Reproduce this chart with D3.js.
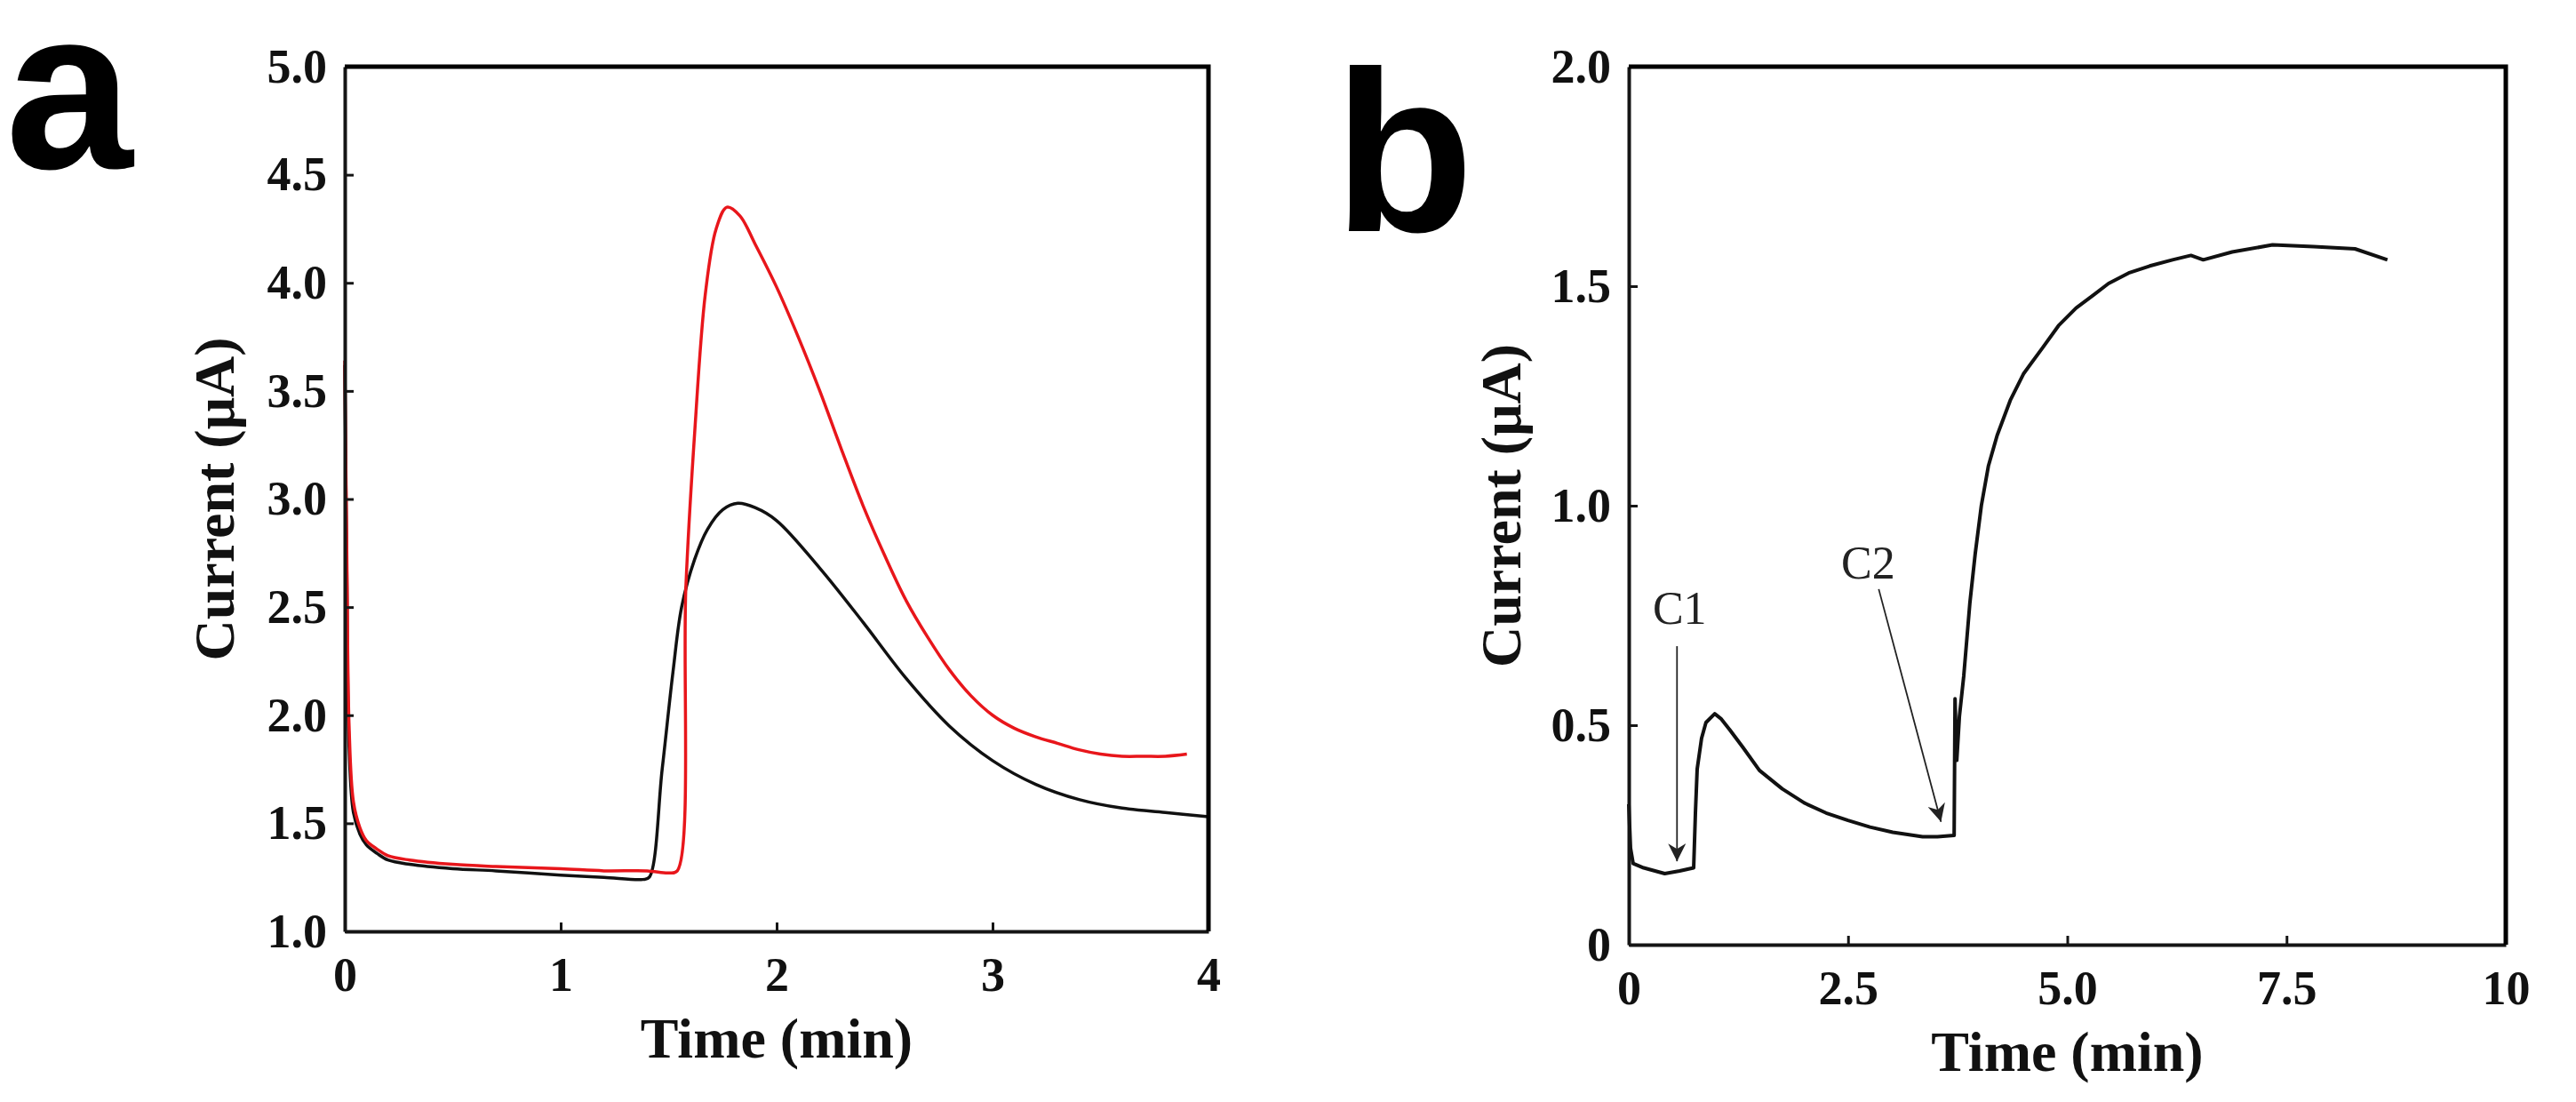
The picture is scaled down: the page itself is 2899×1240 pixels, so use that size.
<!DOCTYPE html>
<html>
<head>
<meta charset="utf-8">
<script src="https://cdn.jsdelivr.net/npm/d3@7"></script>
<style>
  body { margin: 0; background: #fff; }
  .tick text { font-family: "Liberation Serif", "Times New Roman", serif; font-weight: bold; font-size: 54px; fill: #111; }
  .domain { stroke: #151515; stroke-width: 4; }
  .tick line { stroke: #151515; stroke-width: 3; }
  .title { font-family: "Liberation Serif", "Times New Roman", serif; font-weight: bold; font-size: 64px; fill: #111; }
  .letter { font-family: "Liberation Sans", Arial, sans-serif; font-weight: bold; font-size: 258px; fill: #000; }
  .note { font-family: "Liberation Serif", "Times New Roman", serif; font-size: 52px; fill: #222; }
</style>
</head>
<body>
<svg id="svg" width="2899" height="1240"></svg>
<script>
// panel a: amperometric response, two runs
const timeA_black = [0, 0.01, 0.02, 0.04, 0.07, 0.1, 0.15, 0.2, 0.3, 0.5, 0.7, 1.0, 1.2, 1.38, 1.41, 1.47, 1.52, 1.56, 1.62, 1.68, 1.75, 1.82, 1.9, 2.0, 2.2, 2.4, 2.6, 2.8, 3.0, 3.2, 3.4, 3.6, 3.8, 4.0];
const currentA_black = [3.62, 2.6, 1.85, 1.55, 1.45, 1.40, 1.36, 1.33, 1.31, 1.29, 1.28, 1.26, 1.25, 1.24, 1.25, 1.75, 2.2, 2.5, 2.72, 2.86, 2.95, 2.98, 2.96, 2.9, 2.68, 2.43, 2.17, 1.95, 1.79, 1.68, 1.61, 1.57, 1.55, 1.53];

const timeA_red = [0, 0.01, 0.02, 0.04, 0.07, 0.1, 0.15, 0.2, 0.3, 0.5, 0.7, 1.0, 1.2, 1.4, 1.5, 1.54, 1.58, 1.62, 1.67, 1.72, 1.77, 1.83, 1.9, 2.0, 2.1, 2.2, 2.3, 2.4, 2.5, 2.6, 2.7, 2.8, 2.9, 3.0, 3.1, 3.2, 3.3, 3.4, 3.5, 3.6, 3.7, 3.8, 3.9];
const currentA_red = [3.64, 2.7, 1.95, 1.6, 1.48, 1.42, 1.38, 1.35, 1.33, 1.31, 1.30, 1.29, 1.28, 1.28, 1.27, 1.28, 2.6, 3.3, 3.95, 4.25, 4.35, 4.31, 4.18, 3.98, 3.75, 3.5, 3.23, 2.97, 2.74, 2.53, 2.36, 2.21, 2.09, 2.0, 1.94, 1.9, 1.87, 1.84, 1.82, 1.81, 1.81, 1.81, 1.82];

// panel b: response to two additions C1 and C2
const timeB = [0, 0.02, 0.05, 0.17, 0.41, 0.58, 0.74, 0.76, 0.78, 0.83, 0.88, 0.98, 1.05, 1.15, 1.3, 1.49, 1.75, 2.0, 2.25, 2.5, 2.75, 3.01, 3.35, 3.52, 3.71, 3.72, 3.74, 3.77, 3.82, 3.89, 3.95, 4.02, 4.1, 4.2, 4.35, 4.5, 4.72, 4.9, 5.1, 5.3, 5.47, 5.7, 5.94, 6.2, 6.41, 6.55, 6.88, 7.34, 7.81, 8.28, 8.65];
const currentB = [0.32, 0.22, 0.185, 0.175, 0.162, 0.168, 0.175, 0.30, 0.40, 0.47, 0.506, 0.526, 0.515, 0.49, 0.45, 0.397, 0.355, 0.323, 0.30, 0.283, 0.268, 0.256, 0.246, 0.246, 0.249, 0.56, 0.42, 0.52, 0.613, 0.78, 0.89, 1.0, 1.09, 1.16, 1.24, 1.3, 1.36, 1.41, 1.45, 1.48, 1.506, 1.53, 1.546, 1.56, 1.57, 1.56, 1.578, 1.594, 1.59, 1.585, 1.56];

const ticksAx = [0, 1, 2, 3, 4];
const ticksAy = [1.0, 1.5, 2.0, 2.5, 3.0, 3.5, 4.0, 4.5, 5.0];
const ticksBx = [0, 2.5, 5.0, 7.5, 10];
const ticksBy = [0, 0.5, 1.0, 1.5, 2.0];

const notesB = [
  {label: "C1", tx: 0.58, ty: 0.73, from: [0.55, 0.68], to: [0.55, 0.19]},
  {label: "C2", tx: 2.73, ty: 0.835, from: [2.85, 0.81], to: [3.56, 0.28]}
];

const svg = d3.select("svg#svg");

var zip = function(xs, ys) {
  return xs.map((x, i) => [x, ys[i]]);
}

var translate = function(a, b) {
  return "translate(" + a + ", " + b + ")";
}

var drawFrame = function(g, x, y, opts) {
  let xAxis = d3.axisBottom(x)
    .tickValues(opts.xTicks)
    .tickFormat(opts.xFormat)
    .tickSizeInner(-10)
    .tickSizeOuter(0);
  let yAxis = d3.axisLeft(y)
    .tickValues(opts.yTicks)
    .tickFormat(opts.yFormat)
    .tickSizeInner(-10)
    .tickSizeOuter(0)
    .tickPadding(20);

  let [x0, x1] = x.range();
  let [y0, y1] = y.range();

  g.append("g")
    .attr("transform", translate(0, y0))
    .call(xAxis)
    .call(a => a.selectAll(".tick text").attr("y", 67).attr("dy", 0));

  g.append("g")
    .attr("transform", translate(x0, 0))
    .call(yAxis);

  // top and right edges of the box
  g.append("path")
    .attr("d", "M" + x0 + "," + y1 + "H" + x1 + "V" + y0)
    .attr("fill", "none")
    .attr("stroke", "#000")
    .attr("stroke-width", 5);

  g.append("text")
    .attr("class", "title")
    .attr("text-anchor", "middle")
    .attr("x", (x0 + x1) / 2)
    .attr("y", y0 + opts.xTitleGap)
    .text("Time (min)");

  g.append("text")
    .attr("class", "title")
    .attr("text-anchor", "middle")
    .attr("transform", translate(x0 - opts.yTitleGap, (y0 + y1) / 2) + " rotate(-90)")
    .text("Current (\u03bcA)");
}

// ---- panel a
const gA = svg.append("g");
const xA = d3.scaleLinear().domain([0, 4]).range([388, 1360]);
const yA = d3.scaleLinear().domain([1, 5]).range([1048, 75]);

const lineA = d3.line()
  .x(d => xA(d[0]))
  .y(d => yA(d[1]))
  .curve(d3.curveCatmullRom.alpha(0.5));

gA.append("path")
  .datum(zip(timeA_black, currentA_black))
  .attr("d", lineA)
  .attr("fill", "none")
  .attr("stroke", "#111")
  .attr("stroke-width", 3.5);

gA.append("path")
  .datum(zip(timeA_red, currentA_red))
  .attr("d", lineA)
  .attr("fill", "none")
  .attr("stroke", "#e8161b")
  .attr("stroke-width", 3.5);

drawFrame(gA, xA, yA, {
  xTicks: ticksAx, xFormat: d3.format("d"),
  yTicks: ticksAy, yFormat: d3.format(".1f"),
  xTitleGap: 142, yTitleGap: 125
});

gA.append("text")
  .attr("class", "letter")
  .attr("x", 6)
  .attr("y", 189)
  .text("a");

// ---- panel b
const gB = svg.append("g");
const xB = d3.scaleLinear().domain([0, 10]).range([1833, 2820]);
const yB = d3.scaleLinear().domain([0, 2]).range([1063, 75]);

const lineB = d3.line()
  .x(d => xB(d[0]))
  .y(d => yB(d[1]));

gB.append("path")
  .datum(zip(timeB, currentB))
  .attr("d", lineB)
  .attr("fill", "none")
  .attr("stroke", "#111")
  .attr("stroke-width", 4)
  .attr("stroke-linejoin", "round");

drawFrame(gB, xB, yB, {
  xTicks: ticksBx, xFormat: d => d === 0 || d === 10 ? String(d) : d3.format(".1f")(d),
  yTicks: ticksBy, yFormat: d => d === 0 ? "0" : d3.format(".1f")(d),
  xTitleGap: 142, yTitleGap: 122
});

svg.append("defs").append("marker")
  .attr("id", "head")
  .attr("viewBox", "0 0 10 10")
  .attr("refX", 10)
  .attr("refY", 5)
  .attr("markerUnits", "userSpaceOnUse")
  .attr("markerWidth", 26)
  .attr("markerHeight", 20)
  .attr("orient", "auto")
  .append("path")
  .attr("d", "M0,0L10,5L0,10L3,5Z")
  .attr("fill", "#222");

let notes = gB.selectAll("g.note")
  .data(notesB)
  .enter()
  .append("g")
  .attr("class", "note");

notes.append("text")
  .attr("class", "note")
  .attr("text-anchor", "middle")
  .attr("x", d => xB(d.tx))
  .attr("y", d => yB(d.ty))
  .text(d => d.label);

notes.append("line")
  .attr("x1", d => xB(d.from[0]))
  .attr("y1", d => yB(d.from[1]))
  .attr("x2", d => xB(d.to[0]))
  .attr("y2", d => yB(d.to[1]))
  .attr("stroke", "#222")
  .attr("stroke-width", 1.8)
  .attr("marker-end", "url(#head)");

gB.append("text")
  .attr("class", "letter")
  .attr("x", 1501)
  .attr("y", 260)
  .text("b");
</script>
</body>
</html>
